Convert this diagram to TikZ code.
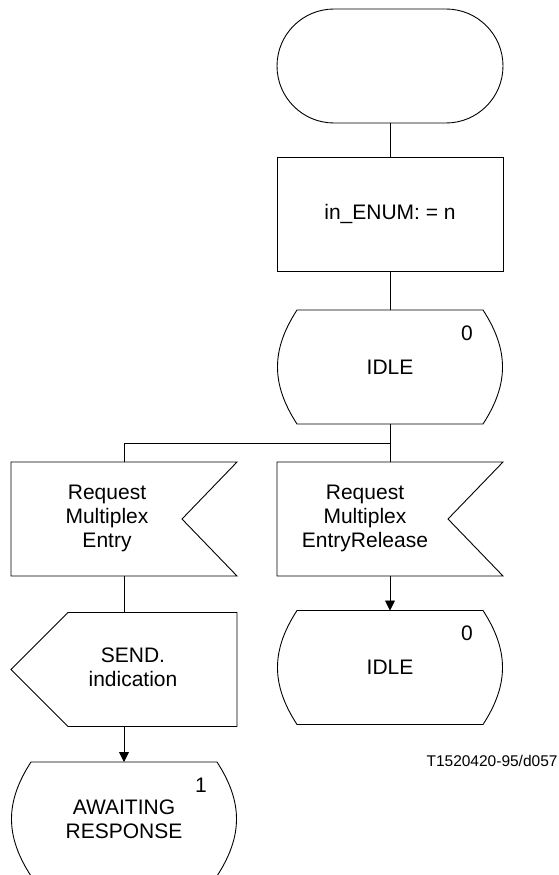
\documentclass[tikz,border=0pt]{standalone}
\usepackage{fontspec}
\setmainfont{Liberation Sans}
\usetikzlibrary{arrows.meta}
\newcommand{\stateline}[1]{%
  \draw ([xshift=20pt]#1.north west) -- ([xshift=-20pt]#1.north east)
    .. controls ([xshift=6pt,yshift=-40pt]#1.north east) and ([xshift=6pt,yshift=40pt]#1.south east)
    .. ([xshift=-20pt]#1.south east) -- ([xshift=20pt]#1.south west)
    .. controls ([xshift=-6pt,yshift=40pt]#1.south west) and ([xshift=-6pt,yshift=-40pt]#1.north west)
    .. cycle;}
\newcommand{\sigin}[1]{%
  \draw (#1.north west) -- (#1.north east) -- ([xshift=-55pt]#1.east)
    -- (#1.south east) -- (#1.south west) -- cycle;}
\newcommand{\sigout}[1]{%
  \draw ([xshift=57pt]#1.north west) -- (#1.north east) -- (#1.south east)
    -- ([xshift=57pt]#1.south west) -- (#1.west) -- cycle;}
% text block, moved sideways by -#1/2
\newcommand{\lines}[2]{\begin{tabular}{@{}c@{}}#2\end{tabular}\hspace*{#1}}
\begin{document}
\begin{tikzpicture}[x=1pt, y=-1pt, line width=0.9pt,
    box/.style={draw, minimum width=226pt, minimum height=114pt, inner sep=0pt, outer sep=0pt,
      align=center, font=\fontsize{21}{24}\selectfont},
    startbox/.style={box, rounded corners=57pt},
    shapebox/.style={box, draw=none},
    num/.style={font=\fontsize{21}{24}\selectfont, inner sep=0pt},
    flow/.style={-{Triangle[length=10pt,width=10pt]}}]
  \useasboundingbox (0,0) rectangle (559,875);
  \def\xL{124} \def\xR{390}
  % right column: start, task, first state
  \node[startbox] (start) at (\xR,66) {};
  \node[box] (setenum) at (\xR,214) {in\_ENUM: = n};
  \node[shapebox] (idle) at (\xR,367) {IDLE};
  \stateline{idle}
  \node[num] (idlenum) at ([xshift=-36pt,yshift=-23pt]idle.north east) {0};
  % the two inputs
  \node[shapebox] (reqentry) at (\xL,519) {\lines{34pt}{Request\\Multiplex\\Entry}};
  \sigin{reqentry}
  \node[shapebox] (reqrel) at (\xR,519) {\lines{50pt}{Request\\Multiplex\\EntryRelease}};
  \sigin{reqrel}
  \node[shapebox] (sendind) at (\xL,669.5) {\lines{-18pt}{SEND.\\indication}};
  \sigout{sendind}
  \node[shapebox] (waiting) at (\xL,819) {AWAITING\\RESPONSE};
  \stateline{waiting}
  \node[num] (waitnum) at ([xshift=-36pt,yshift=-23pt]waiting.north east) {1};
  \node[shapebox] (idleback) at (\xR,667.5) {IDLE};
  \stateline{idleback}
  \node[num] (backnum) at ([xshift=-36pt,yshift=-23pt]idleback.north east) {0};
  \node[font=\fontsize{15.5}{18}\selectfont, anchor=east, inner sep=0pt] (tag) at (558,761) {T1520420-95/d057};
  \coordinate (fork) at (\xR,443);
  \draw (start.south) -- (setenum.north);
  \draw (setenum.south) -- (idle.north);
  \draw (idle.south) -- (fork) -| (reqentry.north);
  \draw (fork) -- (reqrel.north);
  \draw (reqentry.south) -- (sendind.north);
  \draw[flow] (sendind.south) -- (waiting.north);
  \draw[flow] (reqrel.south) -- (idleback.north);
\end{tikzpicture}
\end{document}
